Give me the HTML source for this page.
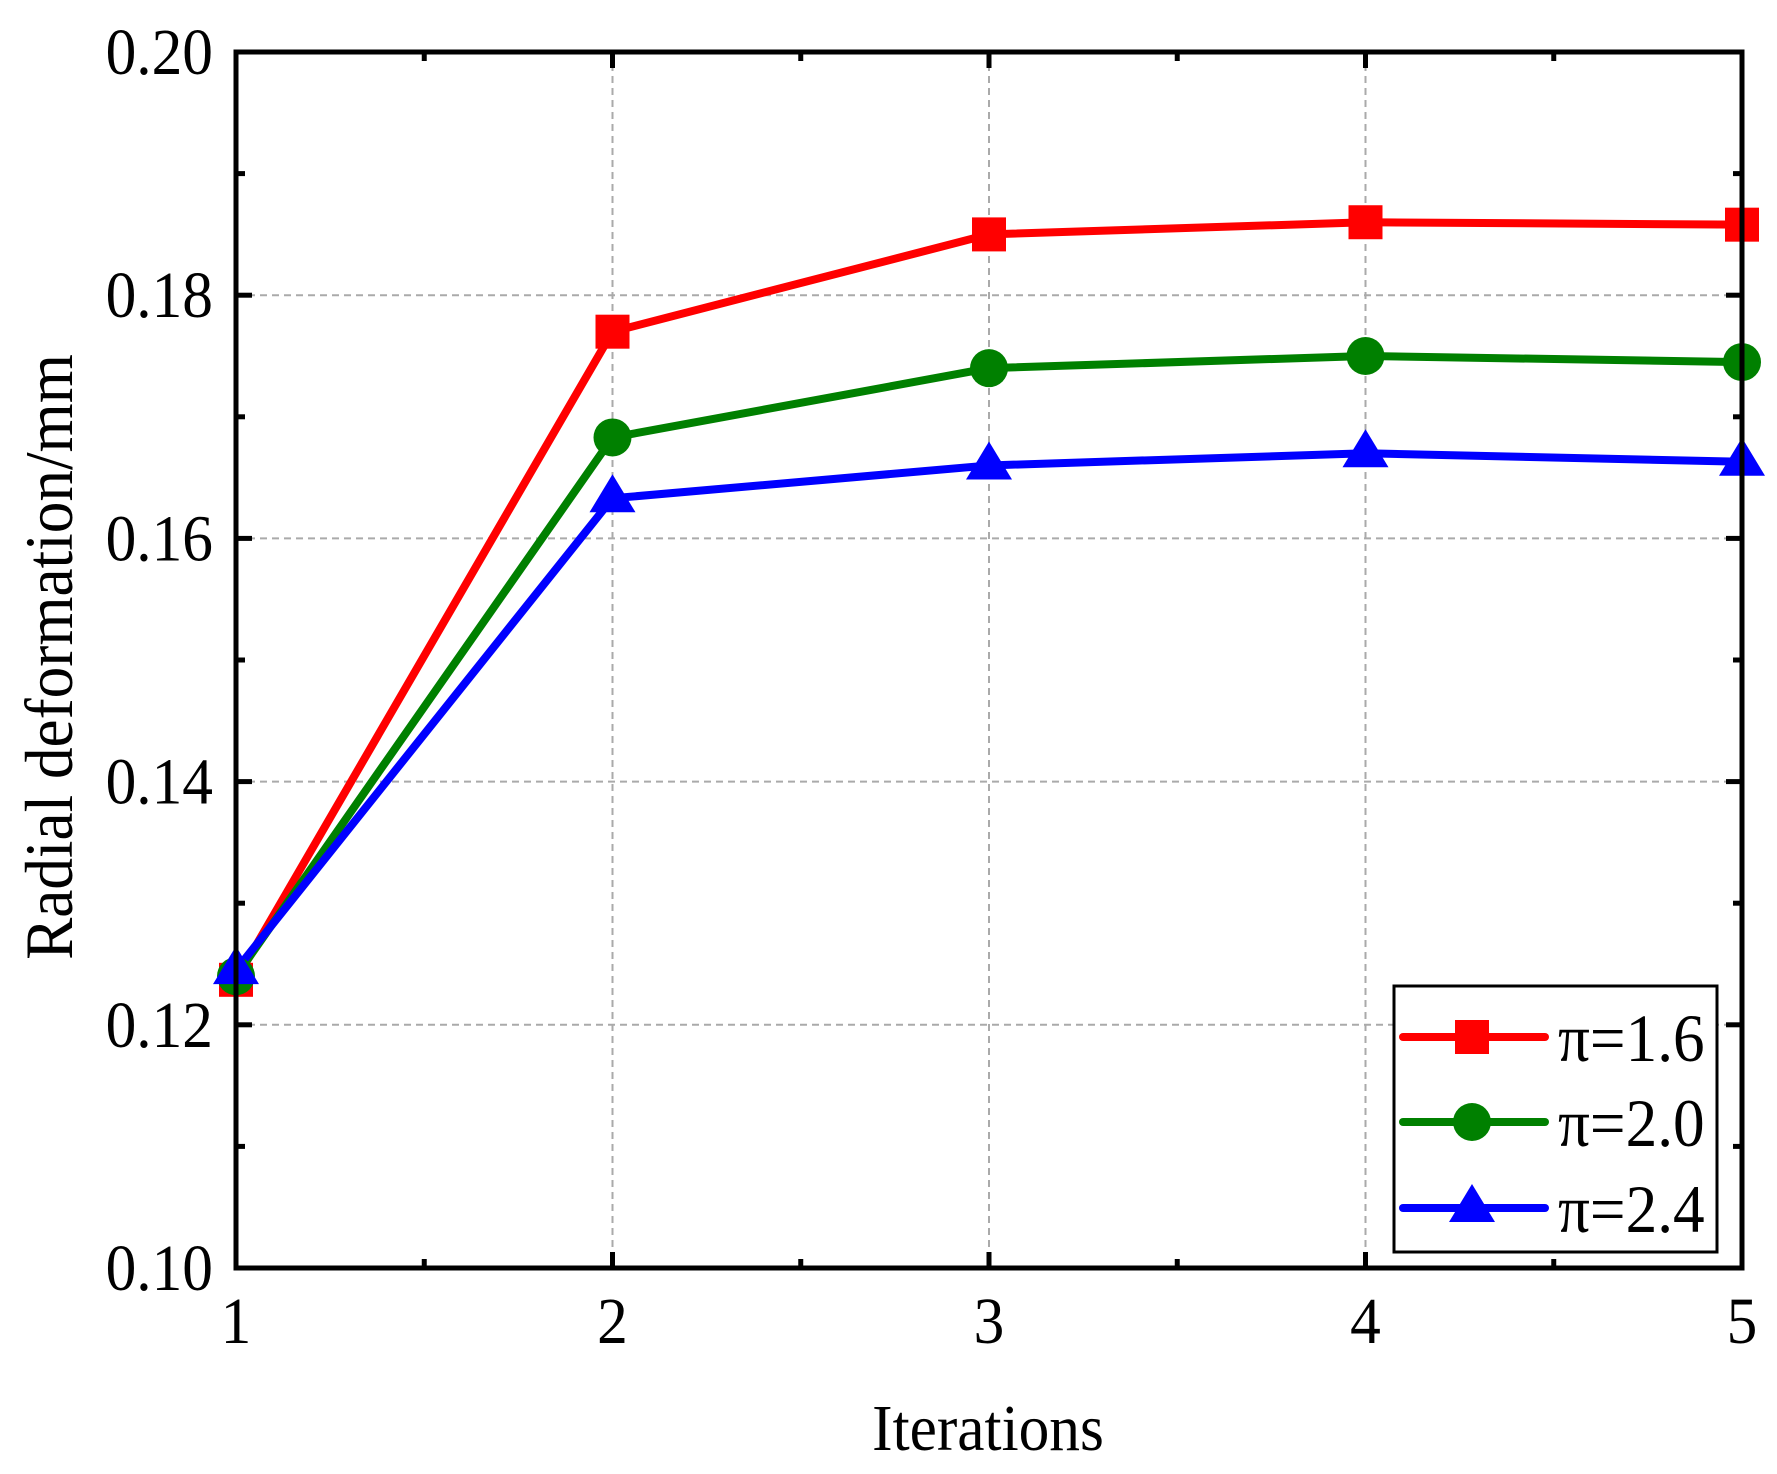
<!DOCTYPE html>
<html><head><meta charset="utf-8"><style>
html,body{margin:0;padding:0;background:#fff;}
svg{display:block;font-family:"Liberation Serif",serif;}
</style></head><body>
<svg id="chart" width="1777" height="1474" viewBox="0 0 1777 1474">
<g id="grid"></g>
<g id="series"></g>
<g id="axes"></g>
<g transform="translate(72 657) rotate(-90) scale(0.93 1)"><text x="0" y="0" font-size="68" text-anchor="middle">Radial deformation/mm</text></g>
<g transform="translate(988 1450) scale(0.93 1)"><text x="0" y="0" font-size="66" text-anchor="middle">Iterations</text></g>
<g id="legend"></g>
</svg>
<script>
const categories=[1,2,3,4,5];
const seriesRed=[0.1237,0.177,0.185,0.186,0.1858];
const seriesGreen=[0.124,0.1683,0.174,0.175,0.1745];
const seriesBlue=[0.1245,0.1633,0.166,0.167,0.1663];
const seriesLabels=["π=1.6","π=2.0","π=2.4"];
const yTicks=[0.10,0.12,0.14,0.16,0.18,0.20];
const yTickLabels=["0.10","0.12","0.14","0.16","0.18","0.20"];
const yMinor=[0.11,0.13,0.15,0.17,0.19];
const xMinor=[1.5,2.5,3.5,4.5];

const L=236,R=1742,T=52,B=1268;
const xs=v=>L+(v-1)/(4)*(R-L);
const ys=v=>B-(v-0.10)/0.10*(B-T);
const NS="http://www.w3.org/2000/svg";
function mk(tag,attrs,parent){const e=document.createElementNS(NS,tag);for(const k in attrs)e.setAttribute(k,attrs[k]);parent.appendChild(e);return e;}
function txt(x,y,size,anchor,str,parent){
  const g=mk('g',{transform:`translate(${x} ${y}) scale(0.93 1)`},parent);
  const t=mk('text',{x:0,y:0,'font-size':size,'text-anchor':anchor},g);
  t.textContent=str;return t;
}
const grid=document.getElementById('grid'),axes=document.getElementById('axes'),ser=document.getElementById('series'),leg=document.getElementById('legend');

yTicks.forEach((t,i)=>{
  const y=ys(t);
  if(i>0&&i<yTicks.length-1){const g=mk('line',{x1:L,x2:R,y1:y,y2:y,stroke:'#aaa','stroke-width':2,'stroke-dasharray':'7 5'},grid);
  
  }
  const a=mk('line',{x1:L,x2:L+16,y1:y,y2:y,stroke:'#000','stroke-width':5},axes);
  
  
  const b=mk('line',{x1:R-16,x2:R,y1:y,y2:y,stroke:'#000','stroke-width':5},axes);
  
  
  const tx=txt(213,y+22,66,'end',yTickLabels[i],axes);
  
  
});
yMinor.forEach(t=>{const y=ys(t);
  const a=mk('line',{x1:L,x2:L+9,y1:y,y2:y,stroke:'#000','stroke-width':5},axes);
  
  
  const b=mk('line',{x1:R-9,x2:R,y1:y,y2:y,stroke:'#000','stroke-width':5},axes);
  
  
});
categories.forEach((c,i)=>{
  const x=xs(c);
  if(i>0&&i<categories.length-1){const g=mk('line',{x1:x,x2:x,y1:T,y2:B,stroke:'#aaa','stroke-width':2,'stroke-dasharray':'7 5'},grid);
  
  }
  const a=mk('line',{x1:x,x2:x,y1:B-16,y2:B,stroke:'#000','stroke-width':5},axes);
  
  
  const b=mk('line',{x1:x,x2:x,y1:T,y2:T+16,stroke:'#000','stroke-width':5},axes);
  
  
  const tx=txt(x,1343,66,'middle',String(c),axes);
  
  
});
xMinor.forEach(t=>{const x=xs(t);
  const a=mk('line',{x1:x,x2:x,y1:B-9,y2:B,stroke:'#000','stroke-width':5},axes);
  
  
  const b=mk('line',{x1:x,x2:x,y1:T,y2:T+9,stroke:'#000','stroke-width':5},axes);
  
  
});
const frame=mk('rect',{x:L,y:T,width:R-L,height:B-T,fill:'none',stroke:'#000','stroke-width':5},axes);



function marker(kind,x,y,color,parent){
  let e;
  if(kind==='square')e=mk('rect',{x:x-17,y:y-17,width:34,height:34,fill:color},parent);
  else if(kind==='circle')e=mk('circle',{cx:x,cy:y,r:19,fill:color},parent);
  else e=mk('polygon',{points:`${x},${y-24} ${x-23},${y+14} ${x+23},${y+14}`,fill:color},parent);
  return e;
}
const all=[[seriesRed,'#ff0000','square'],[seriesGreen,'#008000','circle'],[seriesBlue,'#0000ff','triangle']];
all.forEach(([vals,color,kind],si)=>{
  const pts=vals.map((v,i)=>xs(categories[i])+','+ys(v)).join(' ');
  const pl=mk('polyline',{points:pts,fill:'none',stroke:color,'stroke-width':8,'stroke-linejoin':'round'},ser);
  
  
});
all.forEach(([vals,color,kind],si)=>{
  vals.forEach((v,i)=>{
    const m=marker(kind,xs(categories[i]),ys(v),color,ser);
    
    
  });
});
const box=mk('rect',{x:1394,y:986,width:323,height:266,fill:'#fff',stroke:'#000','stroke-width':3},leg);


const rowY=[1037,1122,1208];
all.forEach(([vals,color,kind],si)=>{
  const y=rowY[si];
  const l=mk('line',{x1:1403,x2:1545,y1:y,y2:y,stroke:color,'stroke-width':8,'stroke-linecap':'round'},leg);
  
  
  const m=marker(kind,1472,y,color,leg);
  
  
  const t=txt(1558,y+24,68,'start',seriesLabels[si],leg);
  
  
});
</script>
</body></html>
